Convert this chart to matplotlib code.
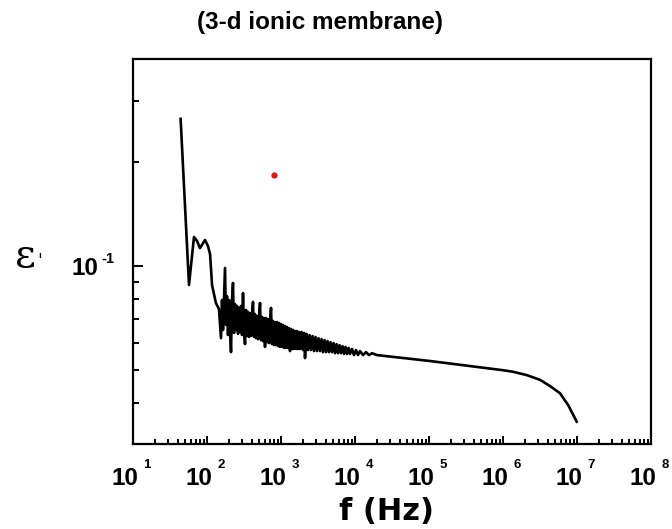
import matplotlib
matplotlib.use("Agg")
import matplotlib.pyplot as plt
from matplotlib.ticker import FixedLocator, NullFormatter
import numpy as np

plt.rcParams['font.family'] = ['Liberation Sans', 'DejaVu Sans']

# ---- data ----
freq_hz = [44, 57.1, 66.7, 73.3, 80.4, 94.0, 103, 110, 117, 132, 145,
           154.6, 159.5, 164.5, 169.7, 175.1, 180.6, 186.3, 192.2, 198.3, 204.6,
           211.1, 217.7, 224.6, 231.7, 239.0, 246.6, 254.4, 262.4, 270.7, 279.3,
           288.1, 297.2, 306.6, 316.2, 326.3, 336.6, 347.2, 358.2, 369.5, 381.2,
           393.3, 405.7, 418.5, 431.8, 445.4, 459.5, 474.0, 489.0, 504.5, 520.4,
           536.9, 553.9, 571.4, 589.5, 608.1, 627.4, 647.2, 667.7, 688.8, 710.6,
           733.1, 756.3, 780.2, 804.9, 830.4, 856.7, 883.8, 911.8, 940.6, 970.4,
           1000, 1031.6, 1064.2, 1097.9, 1132.7, 1168.5, 1205.5, 1243.7, 1283.0, 1323.6,
           1365.5, 1408.8, 1453.4, 1499.3, 1546.8, 1595.8, 1646.3, 1698.4, 1752.2, 1807.7,
           1894, 1984, 2046, 2111, 2212, 2318, 2429, 2545, 2667, 2794,
           2928, 3068, 3214, 3368, 3529, 3698, 3875, 4060, 4254, 4457,
           4670, 4894, 5128, 5373, 5630, 5899, 6181, 6477, 6786, 7111,
           7451, 7807, 8180, 8571, 9105, 9690, 10310, 10970, 11690, 12830,
           14090, 15460, 16980, 19800,
           1.0e5, 1.0e6, 1.36e6, 2.09e6, 3.16e6, 4.31e6, 5.89e6, 7.62e6, 9.9e6]
eps_real = [0.267, 0.0881, 0.1214, 0.1182, 0.1127, 0.1190, 0.1143, 0.1083, 0.0881, 0.0781, 0.0751,
            0.0618, 0.0797, 0.0653, 0.0808, 0.0987, 0.0675, 0.0818, 0.0631, 0.0797, 0.0653,
            0.0563, 0.0797, 0.0893, 0.0640, 0.0776, 0.0653, 0.0766, 0.0636, 0.0756, 0.0644,
            0.0766, 0.0631, 0.0835, 0.0653, 0.0594, 0.0746, 0.0627, 0.0736, 0.0623, 0.0731,
            0.0627, 0.0721, 0.0787, 0.0623, 0.0726, 0.0618, 0.0716, 0.0614, 0.0716, 0.0781,
            0.0610, 0.0712, 0.0606, 0.0707, 0.0583, 0.0707, 0.0602, 0.0702, 0.0598, 0.0697,
            0.0756, 0.0594, 0.0693, 0.0590, 0.0688, 0.0590, 0.0688, 0.0586, 0.0684, 0.0583,
            0.0679, 0.0583, 0.0675, 0.0579, 0.0670, 0.0579, 0.0666, 0.0579, 0.0661, 0.0567,
            0.0657, 0.0575, 0.0653, 0.0575, 0.0648, 0.0575, 0.0648, 0.0575, 0.0644, 0.0575,
            0.0644, 0.0571, 0.0640, 0.0541, 0.0636, 0.0571, 0.0631, 0.0571, 0.0627, 0.0567,
            0.0623, 0.0567, 0.0618, 0.0567, 0.0614, 0.0563, 0.0610, 0.0563, 0.0606, 0.0563,
            0.0602, 0.0563, 0.0598, 0.0559, 0.0594, 0.0559, 0.0590, 0.0559, 0.0586, 0.0556,
            0.0583, 0.0556, 0.0579, 0.0556, 0.0575, 0.0552, 0.0571, 0.0552, 0.0567, 0.0552,
            0.0563, 0.0552, 0.0559, 0.0552,
            0.0531, 0.0499, 0.0494, 0.0483, 0.0468, 0.0449, 0.0428, 0.0395, 0.0354]
red_point_f = [804]
red_point_eps = [0.1837]

title_text = "(3-d ionic membrane)"
x_label = "f (Hz)"
y_label = "ε"
x_tick_exps = [1, 2, 3, 4, 5, 6, 7, 8]
y_tick_exps = [-1]

# ---- figure ----
fig = plt.figure(figsize=(6.72, 5.29), dpi=100)
ax = fig.add_axes([133/672, 1-444/529, (651-133)/672, (444-59)/529])

ax.plot(freq_hz, eps_real, color='black', lw=1.9, solid_joinstyle='round')
ax.plot(red_point_f, red_point_eps, 'o', color='#ee1111', ms=4.5, mec='none')

ax.set_xscale('log')
ax.set_yscale('log')
ax.set_xlim(10, 1e8)
ax.set_ylim(0.0305, 0.398)

ax.xaxis.set_major_locator(FixedLocator([10.0**e for e in x_tick_exps]))
ax.yaxis.set_major_locator(FixedLocator([10.0**e for e in y_tick_exps]))
for a in (ax.xaxis, ax.yaxis):
    a.set_major_formatter(NullFormatter())
    a.set_minor_formatter(NullFormatter())

ax.tick_params(which='both', direction='in', top=False, right=False, width=1.4)
ax.tick_params(axis='x', which='major', length=5.5)
ax.tick_params(axis='x', which='minor', length=3.5)
ax.tick_params(axis='y', which='major', length=7.5)
ax.tick_params(axis='y', which='minor', length=4.3)
for s in ax.spines.values():
    s.set_linewidth(1.6)

# tick labels: "10" with a small raised exponent
for e in x_tick_exps:
    ax.annotate("10", xy=(10.0**e, 0), xycoords=('data', 'axes fraction'),
                xytext=(-6.1, -29.5), textcoords='offset points', ha='center', va='baseline',
                fontsize=17.5, fontweight='bold', annotation_clip=False)
    ax.annotate(str(e), xy=(10.0**e, 0), xycoords=('data', 'axes fraction'),
                xytext=(7.6, -17.5), textcoords='offset points', ha='left', va='baseline',
                fontsize=9.5, fontweight='bold', annotation_clip=False)
for e in y_tick_exps:
    ax.annotate("10", xy=(0, 10.0**e), xycoords=('axes fraction', 'data'),
                xytext=(-34.6, -6.5), textcoords='offset points', ha='center', va='baseline',
                fontsize=17.5, fontweight='bold', annotation_clip=False)
    ax.annotate(str(e), xy=(0, 10.0**e), xycoords=('axes fraction', 'data'),
                xytext=(-22.5, 2.2), textcoords='offset points', ha='left', va='baseline',
                fontsize=10.5, fontweight='bold', annotation_clip=False)

fig.text(387/672, 1-520/529, x_label, ha='center', va='baseline', fontsize=22,
         fontweight='bold', family=['DejaVu Sans'])
fig.text(320/672, 1-22/529, title_text, ha='center', va='center', fontsize=17.5, fontweight='bold')
fig.text(25/672, 1-257/529, y_label, ha='center', va='center', fontsize=29, family=['DejaVu Serif'])
fig.text(40/672, 1-262/529, "'", ha='center', va='center', fontsize=13, family=['DejaVu Serif'])

fig.savefig('out.png', dpi=100)
